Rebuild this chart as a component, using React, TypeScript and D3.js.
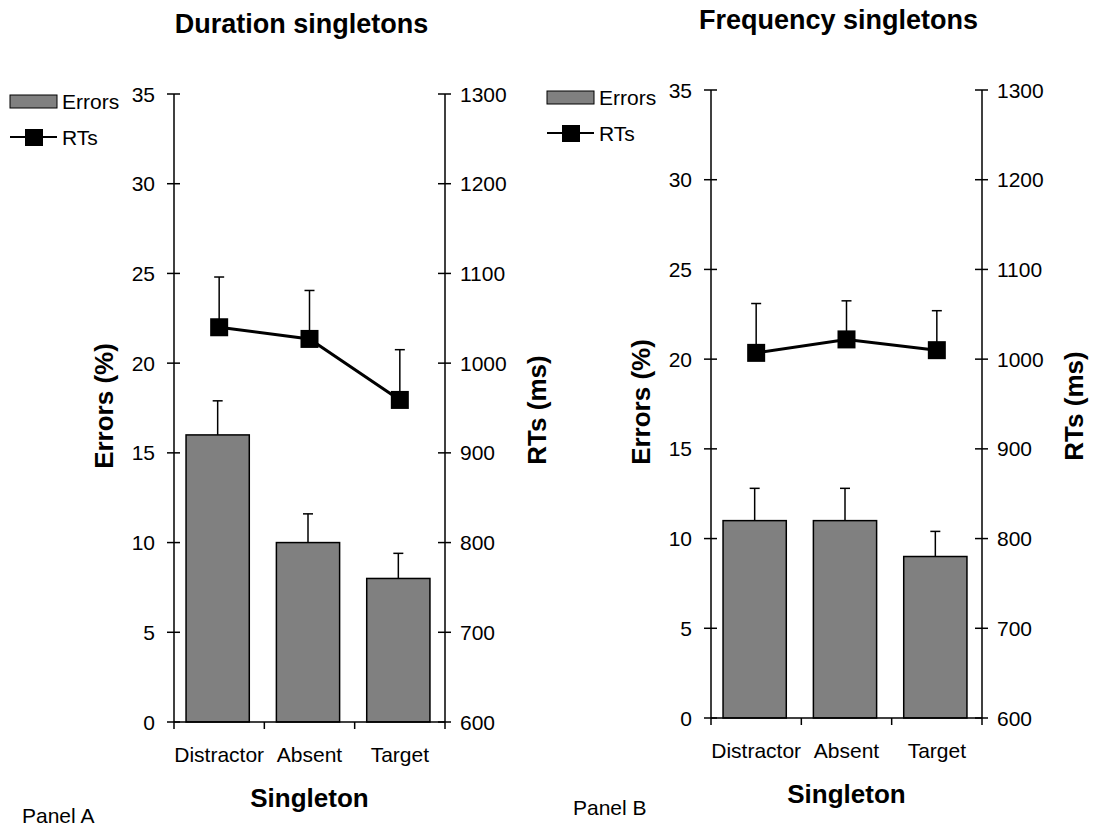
import React from 'react';
import * as d3 from 'd3';

// shared categories and axis ticks
const categories = ['Distractor', 'Absent', 'Target'];
const errorTicks = [0, 5, 10, 15, 20, 25, 30, 35];
const rtTicks = [600, 700, 800, 900, 1000, 1100, 1200, 1300];

// Panel A - duration singletons
const durationErrors = [16, 10, 8];
const durationErrorsSE = [1.9, 1.6, 1.4];
const durationRTs = [1040, 1027, 959];
const durationRTsSE = [56, 54, 56];

// Panel B - frequency singletons
const frequencyErrors = [11, 11, 9];
const frequencyErrorsSE = [1.8, 1.8, 1.4];
const frequencyRTs = [1007, 1022, 1010];
const frequencyRTsSE = [55, 43, 44];

const FONT = '"Liberation Sans", Arial, Helvetica, sans-serif';
const W = 271;
const H = 628;

type PanelProps = {
  x0: number;
  y0: number;
  title: string;
  label: string;
  labelX: number;
  labelY: number;
  errors: number[];
  errorsSE: number[];
  rts: number[];
  rtsSE: number[];
};

const Panel = ({ x0, y0, title, label, labelX, labelY, errors, errorsSE, rts, rtsSE }: PanelProps) => {
  const x = d3.scaleBand<string>().domain(categories).range([0, W]).padding(0);
  const yErr = d3.scaleLinear().domain([0, 35]).range([0, -H]);
  const yRt = d3.scaleLinear().domain([600, 1300]).range([0, -H]);
  const bw = x.bandwidth();
  const barW = bw * 0.7;
  const cx = (c: string) => (x(c) as number) + bw / 2;

  const rtLine = d3
    .line<number>()
    .x((_, i) => cx(categories[i]))
    .y((v) => yRt(v));

  const top = y0 - H;

  return (
    <g fontFamily={FONT}>
      {/* title */}
      <text x={x0 + W / 2 - 8} y={top - 61} textAnchor="middle" fontSize={27} fontWeight="bold">
        {title}
      </text>

      {/* legend */}
      <g transform={`translate(${x0 - 164},0)`}>
        <rect x={0} y={top + 1} width={47} height={13} fill="#808080" stroke="#000" strokeWidth={1} />
        <text x={52} y={top + 15} fontSize={21}>Errors</text>
        <line x1={0} x2={47} y1={top + 43} y2={top + 43} stroke="#000" strokeWidth={2} />
        <rect x={15} y={top + 35} width={18} height={17} fill="#000" />
        <text x={52} y={top + 51} fontSize={21}>RTs</text>
      </g>

      <g transform={`translate(${x0},${y0})`}>
        {/* bars */}
        {categories.map((c, i) => (
          <rect
            key={c}
            x={cx(c) - barW / 2 - 1.5}
            y={yErr(errors[i])}
            width={barW}
            height={-yErr(errors[i])}
            fill="#808080"
            stroke="#000"
            strokeWidth={1.5}
          />
        ))}
        {/* bar error bars */}
        {categories.map((c, i) => {
          const bx = cx(c) - 1.5;
          return (
            <g key={c} stroke="#000" strokeWidth={1.5}>
              <line x1={bx} x2={bx} y1={yErr(errors[i])} y2={yErr(errors[i] + errorsSE[i])} />
              <line x1={bx - 5} x2={bx + 5} y1={yErr(errors[i] + errorsSE[i])} y2={yErr(errors[i] + errorsSE[i])} />
            </g>
          );
        })}

        {/* left axis */}
        <line x1={0} x2={0} y1={0} y2={-H} stroke="#000" strokeWidth={1.5} />
        {errorTicks.map((t) => (
          <g key={t}>
            <line x1={-7} x2={6} y1={yErr(t)} y2={yErr(t)} stroke="#000" strokeWidth={1.5} />
            <text x={-19} y={yErr(t)} dy="0.36em" textAnchor="end" fontSize={21}>{t}</text>
          </g>
        ))}
        {/* right axis */}
        <line x1={W} x2={W} y1={0} y2={-H} stroke="#000" strokeWidth={1.5} />
        {rtTicks.map((t) => (
          <g key={t}>
            <line x1={W - 7} x2={W + 6} y1={yRt(t)} y2={yRt(t)} stroke="#000" strokeWidth={1.5} />
            <text x={W + 15} y={yRt(t)} dy="0.36em" textAnchor="start" fontSize={21}>{t}</text>
          </g>
        ))}
        {/* bottom axis */}
        <line x1={0} x2={W} y1={0} y2={0} stroke="#000" strokeWidth={1.5} />
        {[0, 1, 2, 3].map((k) => (
          <line key={k} x1={k * bw} x2={k * bw} y1={0} y2={7} stroke="#000" strokeWidth={1.5} />
        ))}
        {categories.map((c) => (
          <text key={c} x={cx(c)} y={40} textAnchor="middle" fontSize={21}>{c}</text>
        ))}

        {/* RT error bars */}
        {categories.map((c, i) => {
          const px = cx(c);
          return (
            <g key={c} stroke="#000" strokeWidth={1.5}>
              <line x1={px} x2={px} y1={yRt(rts[i])} y2={yRt(rts[i] + rtsSE[i])} />
              <line x1={px - 5} x2={px + 5} y1={yRt(rts[i] + rtsSE[i])} y2={yRt(rts[i] + rtsSE[i])} />
            </g>
          );
        })}
        {/* RT line and markers */}
        <path d={rtLine(rts) as string} fill="none" stroke="#000" strokeWidth={3} />
        {categories.map((c, i) => (
          <rect key={c} x={cx(c) - 9} y={yRt(rts[i]) - 9} width={18} height={18} fill="#000" />
        ))}

        {/* axis titles */}
        <text
          transform={`translate(${-61},${-H / 2 - 2}) rotate(-90)`}
          textAnchor="middle"
          fontSize={26}
          fontWeight="bold"
        >
          Errors (%)
        </text>
        <text
          transform={`translate(${W + 101},${-H / 2 + 2}) rotate(-90)`}
          textAnchor="middle"
          fontSize={26}
          fontWeight="bold"
        >
          RTs (ms)
        </text>
        <text x={W / 2} y={85} textAnchor="middle" fontSize={26} fontWeight="bold">
          Singleton
        </text>
      </g>

      <text x={labelX} y={labelY} fontSize={21}>{label}</text>
    </g>
  );
};

export default function App() {
  return (
    <svg
      width={1093}
      height={832}
      style={{ position: 'absolute', left: 0, top: 0, background: '#fff' }}
    >
      <Panel
        x0={174}
        y0={722}
        title="Duration singletons"
        label="Panel A"
        labelX={22}
        labelY={823}
        errors={durationErrors}
        errorsSE={durationErrorsSE}
        rts={durationRTs}
        rtsSE={durationRTsSE}
      />
      <Panel
        x0={711}
        y0={718}
        title="Frequency singletons"
        label="Panel B"
        labelX={573}
        labelY={815}
        errors={frequencyErrors}
        errorsSE={frequencyErrorsSE}
        rts={frequencyRTs}
        rtsSE={frequencyRTsSE}
      />
    </svg>
  );
}
